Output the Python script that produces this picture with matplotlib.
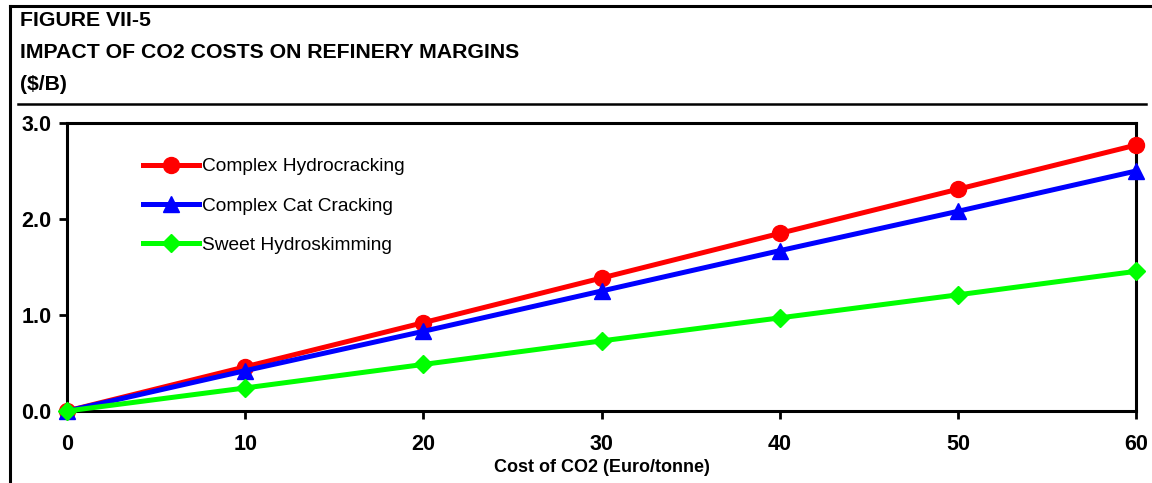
import matplotlib.pyplot as plt
from matplotlib.lines import Line2D

plt.rcParams['font.family'] = ['Liberation Sans', 'DejaVu Sans']

# data
cost = [0, 10, 20, 30, 40, 50, 60]
hydrocracking = [0.0, 0.46, 0.92, 1.385, 1.85, 2.31, 2.77]
cat_cracking = [0.0, 0.42, 0.83, 1.25, 1.67, 2.08, 2.50]
hydroskimming = [0.0, 0.24, 0.485, 0.73, 0.97, 1.21, 1.455]
series_names = ["Complex Hydrocracking", "Complex Cat Cracking", "Sweet Hydroskimming"]

W, H = 1152, 483
fig = plt.figure(figsize=(W / 100, H / 100), dpi=100)

# frame lines of the figure
fig.add_artist(Line2D([10 / W, 10 / W], [0, 1 - 6 / H], color='black', lw=2.2, transform=fig.transFigure))
fig.add_artist(Line2D([10 / W, 1], [1 - 6 / H, 1 - 6 / H], color='black', lw=2.2, transform=fig.transFigure))
fig.add_artist(Line2D([18 / W, 1146 / W], [1 - 104 / H, 1 - 104 / H], color='black', lw=1.8, transform=fig.transFigure))

fig.text(20 / W, 1 - 20 / H, "FIGURE VII-5", fontsize=15.3, fontweight='bold', va='center', ha='left')
fig.text(20 / W, 1 - 53 / H, "IMPACT OF CO2 COSTS ON REFINERY MARGINS", fontsize=15.3, fontweight='bold', va='center', ha='left')
fig.text(20 / W, 1 - 84 / H, "($/B)", fontsize=15.3, fontweight='bold', va='center', ha='left')

ax = fig.add_axes([67 / W, 1 - 411 / H, (1136 - 67) / W, (411 - 123) / H])

ax.plot(cost, hydrocracking, color='#ff0000', lw=3.6, marker='o', markersize=11.5, clip_on=False, zorder=3, label=series_names[0])
ax.plot(cost, cat_cracking, color='#0000ff', lw=3.6, marker='^', markersize=11.5, clip_on=False, zorder=4, label=series_names[1])
ax.plot(cost, hydroskimming, color='#00ff00', lw=3.6, marker='D', markersize=9, clip_on=False, zorder=5, label=series_names[2])

ax.set_xlim(0, 60)
ax.set_ylim(0, 3.0)
ax.set_xticks(cost)
ax.set_xticklabels([str(c) for c in cost])
ax.set_yticks([0, 1, 2, 3])
ax.set_yticklabels(["0.0", "1.0", "2.0", "3.0"])
for lab in ax.get_xticklabels() + ax.get_yticklabels():
    lab.set_fontweight('bold')
ax.tick_params(axis='both', labelsize=15.5, width=2, length=6, direction='out')
ax.tick_params(axis='x', pad=10.5)
ax.tick_params(axis='y', pad=5)
for s in ax.spines.values():
    s.set_linewidth(2.2)
ax.set_xlabel("Cost of CO2 (Euro/tonne)", fontsize=13, fontweight='bold', labelpad=3)

ax.legend(loc='upper left', bbox_to_anchor=(0.064, 0.905), frameon=False, fontsize=13.8,
          handlelength=2.9, handletextpad=0.2, labelspacing=1.13, borderaxespad=0)

fig.savefig("out.png", dpi=100)
